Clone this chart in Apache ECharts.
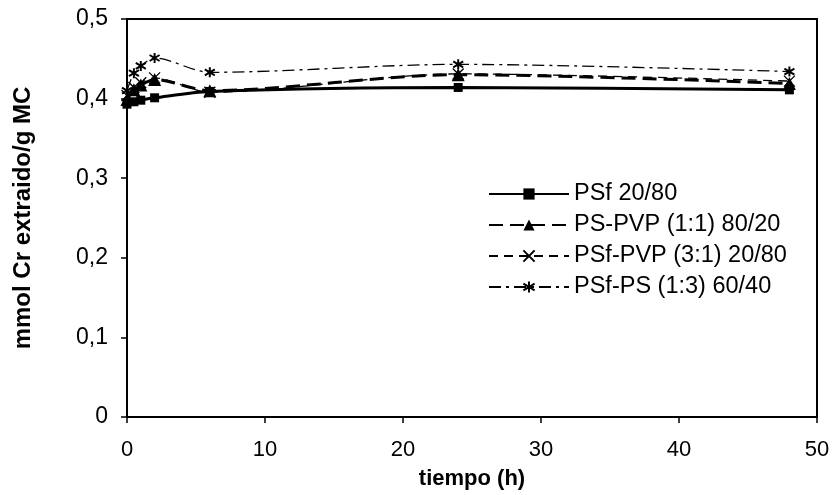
<!DOCTYPE html>
<html><head><meta charset="utf-8">
<script src="https://cdn.jsdelivr.net/npm/echarts@6/dist/echarts.min.js"></script>
<style>html,body{margin:0;padding:0;background:#fff}#c{width:833px;height:495px}</style>
</head><body><div id="c"></div>
<script>
const time = [0, 0.5, 1, 2, 6, 24, 48];
const psf = [0.393, 0.396, 0.398, 0.401, 0.409, 0.414, 0.411];
const pspvp = [0.399, 0.411, 0.417, 0.424, 0.410, 0.430, 0.419];
const psfpvp = [0.404, 0.414, 0.420, 0.426, 0.408, 0.431, 0.422];
const psfps = [0.410, 0.432, 0.441, 0.451, 0.433, 0.443, 0.434];
const names = ['PSf 20/80', 'PS-PVP (1:1) 80/20', 'PSf-PVP (3:1) 20/80', 'PSf-PS (1:3) 60/40'];
const xTitle = 'tiempo (h)';
const yTitle = 'mmol Cr extraido/g MC';

const pair = v => time.map((t, i) => [t, v[i]]);
const font = 'Liberation Sans, Arial, sans-serif';
const chart = echarts.init(document.getElementById('c'));
chart.setOption({
  animation: false,
  backgroundColor: '#fff',
  grid: { left: 127, right: 16, top: 19, bottom: 75, show: true, borderColor: '#000', borderWidth: 2 },
  xAxis: {
    type: 'value', min: 0, max: 50, interval: 10,
    name: xTitle, nameLocation: 'middle', nameGap: 51,
    nameTextStyle: { fontFamily: font, fontWeight: 'bold', fontSize: 22, color: '#000' },
    axisLine: { lineStyle: { color: '#000', width: 2 } },
    axisTick: { length: 6, lineStyle: { color: '#000', width: 1.5 } },
    axisLabel: { fontFamily: font, fontSize: 22, color: '#000', margin: 22 },
    splitLine: { show: false }
  },
  yAxis: {
    type: 'value', min: 0, max: 0.5, interval: 0.1,
    name: yTitle, nameLocation: 'middle', nameGap: 92, nameRotate: 90,
    nameTextStyle: { fontFamily: font, fontWeight: 'bold', fontSize: 24, color: '#000' },
    axisLine: { lineStyle: { color: '#000', width: 2 } },
    axisTick: { length: 6, lineStyle: { color: '#000', width: 1.5 } },
    axisLabel: { fontFamily: font, fontSize: 23, color: '#000', margin: 19,
      formatter: v => (Math.round(v * 10) / 10).toString().replace('.', ',') },
    splitLine: { show: false }
  },
  legend: {
    orient: 'vertical', left: 483, top: 177, itemWidth: 80, itemHeight: 14, itemGap: 7,
    textStyle: { fontFamily: font, fontSize: 23.5, color: '#000' },
    data: names
  },
  series: [
    { name: names[0], type: 'line', smooth: 0.3, data: pair(psf),
      symbol: 'rect', symbolSize: 9,
      itemStyle: { color: '#000' }, lineStyle: { color: '#000', width: 3, type: 'solid' } },
    { name: names[1], type: 'line', smooth: 0.3, data: pair(pspvp),
      symbol: 'triangle', symbolSize: 13,
      itemStyle: { color: '#000' }, lineStyle: { color: '#000', width: 3, type: [14, 7] } },
    { name: names[2], type: 'line', smooth: 0.3, data: pair(psfpvp),
      symbol: 'path://M0,0L10,10M10,0L0,10', symbolSize: 11,
      itemStyle: { color: 'rgba(0,0,0,0)', borderColor: '#000', borderWidth: 1.3 },
      lineStyle: { color: '#000', width: 1.3, type: [9, 6] } },
    { name: names[3], type: 'line', smooth: 0.3, data: pair(psfps),
      symbol: 'path://M5,0L5,10M0,2L10,8M10,2L0,8', symbolSize: 10,
      itemStyle: { color: 'rgba(0,0,0,0)', borderColor: '#000', borderWidth: 2 },
      lineStyle: { color: '#000', width: 1.3, type: [12, 5, 3, 5] } }
  ]
});
</script></body></html>
